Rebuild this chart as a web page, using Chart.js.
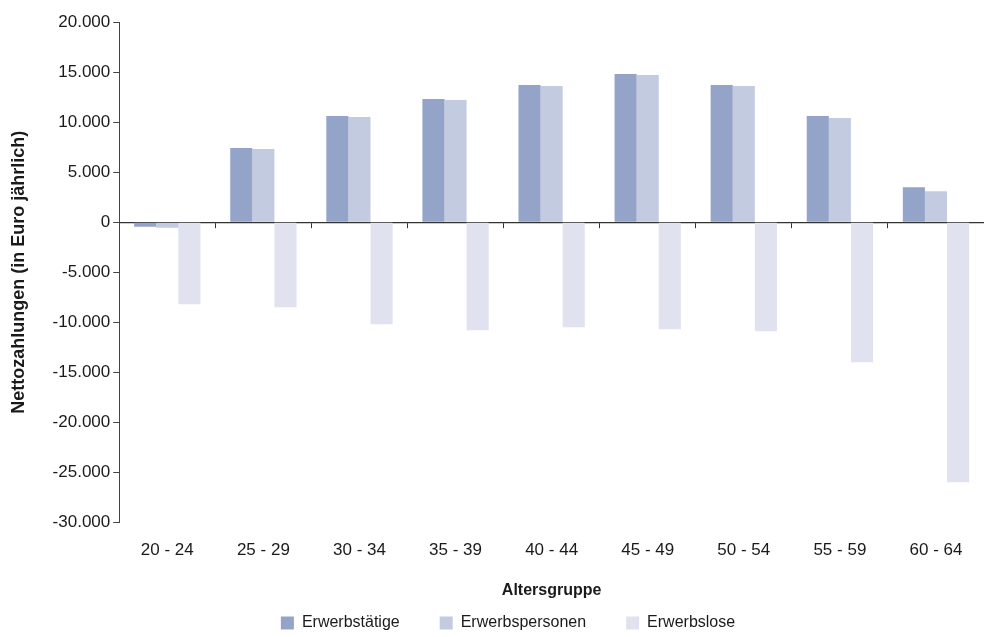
<!DOCTYPE html>
<html lang="de">
<head>
<meta charset="utf-8">
<script src="https://cdn.jsdelivr.net/npm/chart.js@4"></script>
<style>
  html, body { margin: 0; padding: 0; background: #fff; }
  #wrap { width: 984px; height: 637px; position: relative; }
</style>
</head>
<body>
<div id="wrap"><canvas id="chart"></canvas></div>
<script>
const ageGroups        = ["20 - 24", "25 - 29", "30 - 34", "35 - 39", "40 - 44", "45 - 49", "50 - 54", "55 - 59", "60 - 64"];
const erwerbstaetige   = [-450, 7400, 10600, 12300, 13700, 14800, 13700, 10600, 3500];
const erwerbspersonen  = [-550, 7300, 10500, 12200, 13600, 14700, 13600, 10400, 3100];
const erwerbslose      = [-8200, -8500, -10200, -10800, -10500, -10700, -10900, -14000, -26000];
const yTicks           = [20000, 15000, 10000, 5000, 0, -5000, -10000, -15000, -20000, -25000, -30000];

const FONT = "'Liberation Sans', Arial, Helvetica, sans-serif";
const INK  = "#1a1a1a";

function fmtNum(v) {
  const s = Math.abs(v).toString().replace(/\B(?=(\d{3})+(?!\d))/g, ".");
  return (v < 0 ? "-" : "") + s;
}

// legend sits lower than Chart.js would put it, and a bit right of centre
const legendNudge = {
  id: "legendNudge",
  afterLayout(chart) {
    const lg = chart.legend;
    if (!lg) return;
    lg.top = 575;
    lg.left += 12;
    lg.right += 12;
  }
};

new Chart(document.getElementById("chart"), {
  type: "bar",
  data: {
    labels: ageGroups,
    datasets: [
      { label: "Erwerbstätige",   data: erwerbstaetige,  backgroundColor: "#94a4c9" },
      { label: "Erwerbspersonen", data: erwerbspersonen, backgroundColor: "#c3cbe0" },
      { label: "Erwerbslose",     data: erwerbslose,     backgroundColor: "#e0e3ef" },
    ],
  },
  options: {
    responsive: true, maintainAspectRatio: false, animation: false,
    datasets: { bar: { categoryPercentage: 0.69, barPercentage: 1, borderWidth: 0 } },
    layout: { padding: { top: 22, right: 0, bottom: 7, left: 8 } },
    scales: {
      x: {
        grid: { display: false },
        border: { display: false },
        ticks: { color: INK, font: { family: FONT, size: 17 }, padding: 10 },
        title: { display: true, text: "Altersgruppe", color: INK, font: { family: FONT, size: 16, weight: "bold" }, padding: { top: 10, bottom: 0 } },
      },
      x2: {
        type: "category",
        labels: ageGroups,
        position: { y: 0 },
        offset: true,
        grid: { display: true, drawOnChartArea: false, offset: true, tickLength: 5, color: "#333" },
        border: { display: true, color: "#333", width: 1.2 },
        ticks: { display: false },
      },
      y: {
        min: -30000, max: 20000,
        afterBuildTicks: axis => { axis.ticks = yTicks.map(v => ({ value: v })); },
        grid: { display: true, drawOnChartArea: false, tickLength: 6, color: "#444" },
        border: { display: true, color: "#444", width: 1 },
        ticks: { color: INK, font: { family: FONT, size: 17 }, padding: 3, callback: v => fmtNum(v) },
        title: { display: true, text: "Nettozahlungen (in Euro jährlich)", color: INK, font: { family: FONT, size: 18, weight: "bold" }, padding: { top: 0, bottom: 20 } },
      },
    },
    plugins: {
      legend: {
        position: "bottom",
        maxHeight: 30,
        labels: { color: INK, font: { family: FONT, size: 16 }, boxWidth: 13, boxHeight: 13, padding: 40 },
      },
      tooltip: { enabled: false },
    },
  },
  plugins: [legendNudge],
});
</script>
</body>
</html>
